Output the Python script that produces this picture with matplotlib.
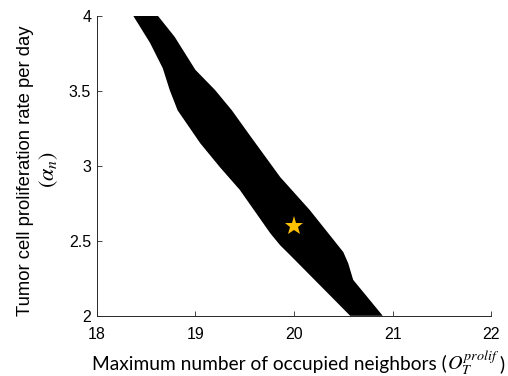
import matplotlib
matplotlib.use("Agg")
import matplotlib.pyplot as plt

plt.rcParams['font.family'] = ['Liberation Sans', 'DejaVu Sans']
plt.rcParams['mathtext.fontset'] = 'stix'

# feasible region: upper (right) boundary, top to bottom
upper_x = [18.62, 18.79, 19.00, 19.20, 19.37, 19.55, 19.86, 20.16, 20.50, 20.55, 20.60, 20.90]
upper_y = [4.00, 3.86, 3.64, 3.505, 3.37, 3.205, 2.925, 2.705, 2.425, 2.35, 2.24, 2.00]
# lower (left) boundary, bottom to top
lower_x = [20.57, 19.96, 19.86, 19.76, 19.45, 19.25, 19.05, 18.82, 18.74, 18.67, 18.54, 18.37]
lower_y = [2.00, 2.405, 2.47, 2.55, 2.84, 2.99, 3.15, 3.37, 3.505, 3.65, 3.82, 4.00]

# baseline parameter set
star_x = [20]
star_y = [2.6]

xticks = [18, 19, 20, 21, 22]
yticks = [2, 2.5, 3, 3.5, 4]
xtick_labels = ['18', '19', '20', '21', '22']
ytick_labels = ['2', '2.5', '3', '3.5', '4']

fig = plt.figure(figsize=(5.08, 3.76), dpi=100)
ax = fig.add_axes([0.1904, 0.1601, 0.7766, 0.7979])

ax.fill(upper_x + lower_x, upper_y + lower_y, color='black', linewidth=0)
ax.plot(star_x, star_y, marker='*', color='#FFC000', markersize=14,
        linestyle='none', markeredgewidth=0)

ax.set_xlim(18, 22)
ax.set_ylim(2, 4)
ax.set_xticks(xticks)
ax.set_yticks(yticks)
ax.set_xticklabels(xtick_labels, fontsize=11.5)
ax.set_yticklabels(ytick_labels, fontsize=11.5)
ax.tick_params(direction='in', length=3.5, width=0.6, color='#262626')
ax.tick_params(axis='x', pad=8)
ax.tick_params(axis='y', pad=4)

for side in ['top', 'right']:
    ax.spines[side].set_visible(False)
for side in ['left', 'bottom']:
    ax.spines[side].set_linewidth(0.7)
    ax.spines[side].set_color('#262626')

# y label: two lines, the symbol line drawn a bit larger
fig.text(0.051, 0.545, 'Tumor cell proliferation rate per day', rotation=90,
         ha='center', va='center', fontsize=13.3)
fig.text(0.095, 0.548, '$(\\alpha_n)$', rotation=90,
         ha='center', va='center', fontsize=16)

# x label: text part followed by the math symbol, right edge at 505 px
base_y = 0.016
t1 = fig.text(0, base_y, 'Maximum number of occupied neighbors (',
              family=['Lato', 'DejaVu Sans'], fontsize=13.8, va='baseline')
t2 = fig.text(0, base_y, '$O_T^{prolif}$', fontsize=14.5, va='baseline')
t3 = fig.text(505 / 508, base_y, ')', family=['Lato', 'DejaVu Sans'],
              fontsize=13.8, va='baseline', ha='right')

fig.canvas.draw()
r = fig.canvas.get_renderer()
w = fig.bbox.width
x3 = t3.get_window_extent(r).x0
t2.set_x((x3 - t2.get_window_extent(r).width - 1) / w)
fig.canvas.draw()
x2 = t2.get_window_extent(r).x0
t1.set_x((x2 - t1.get_window_extent(r).width) / w)

fig.savefig('out.png', dpi=100)
